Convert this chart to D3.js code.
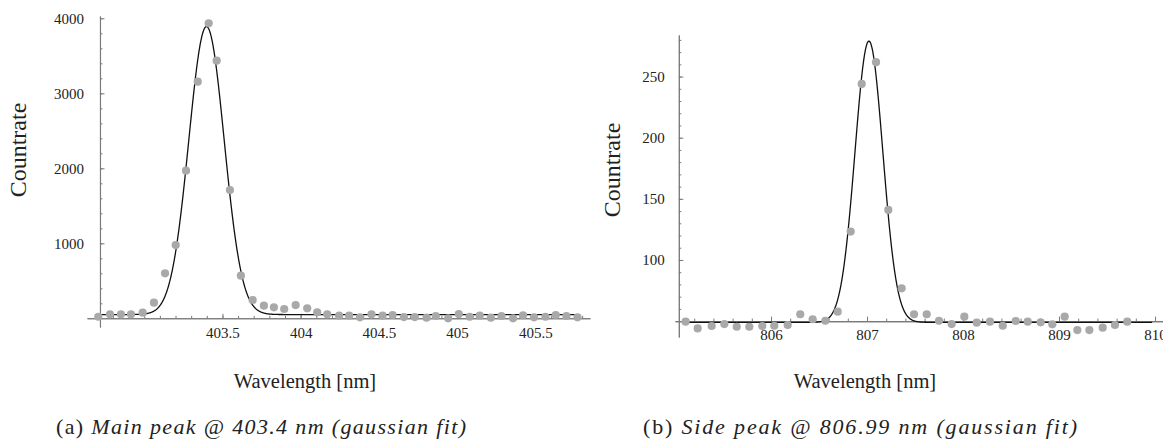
<!DOCTYPE html>
<html>
<head>
<meta charset="utf-8">
<script src="https://cdn.jsdelivr.net/npm/d3@7"></script>
<style>
  html, body { margin: 0; padding: 0; background: #fff; }
  svg { display: block; }
</style>
</head>
<body>
<svg id="chart" width="1163" height="441"></svg>
<script>
// ---------- data: panel (a) main peak ----------
const mainWavelength = [402.706, 402.781, 402.851, 402.915, 402.990, 403.062, 403.133, 403.201, 403.267, 403.342,
  403.412, 403.463, 403.548, 403.618, 403.693, 403.765, 403.829, 403.895, 403.968, 404.042,
  404.106, 404.170, 404.246, 404.310, 404.379, 404.453, 404.524, 404.588, 404.660, 404.730,
  404.805, 404.864, 404.943, 405.011, 405.081, 405.145, 405.216, 405.284, 405.358, 405.422,
  405.492, 405.565, 405.631, 405.699, 405.770];
const mainCounts = [21, 53, 53, 53, 75, 208, 600, 977, 1968, 3155,
  3933, 3435, 1711, 568, 244, 168, 147, 124, 177, 133,
  80, 53, 35, 35, 13, 53, 35, 44, 17, 17,
  9, 31, 0, 57, 21, 35, 9, 31, 0, 40,
  13, 21, 44, 31, 13];
// gaussian fit parameters (a)
const mainFitCenter = 403.398, mainFitSigma = 0.113, mainFitAmp = 3840, mainFitBase = 50;
const mainXTicks = [403.5, 404, 404.5, 405, 405.5];
const mainXTickLabels = ["403.5", "404", "404.5", "405", "405.5"];
const mainXMinor = d3.range(28, 59).map(i => i / 10 + 400);   // 402.8 ... 405.8
const mainYTicks = [1000, 2000, 3000, 4000];
const mainYTickLabels = ["1000", "2000", "3000", "4000"];
const mainYMinor = d3.range(1, 21).map(i => i * 200);

// ---------- data: panel (b) side peak ----------
const sideWavelength = [805.111, 805.236, 805.382, 805.514, 805.643, 805.774, 805.909, 806.034, 806.174, 806.305,
  806.434, 806.566, 806.695, 806.830, 806.945, 807.094, 807.222, 807.361, 807.490, 807.622,
  807.750, 807.882, 808.014, 808.143, 808.281, 808.414, 808.549, 808.674, 808.809, 808.930,
  809.059, 809.191, 809.316, 809.455, 809.583, 809.711];
const sideCounts = [49.5, 44, 46, 47.6, 45.4, 45.4, 46, 46.2, 46.8, 55.6,
  51.5, 50.3, 57.7, 123.2, 244, 261.8, 140.9, 76.8, 55.6, 55.6,
  50.3, 47.6, 53.6, 48.7, 49.5, 46.2, 50.1, 49.5, 49, 47.4,
  53.6, 42.7, 42.7, 44.6, 46.8, 49.5];
const sideFitCenter = 807.02, sideFitSigma = 0.145, sideFitAmp = 230, sideFitBase = 49;
const sideXTicks = [806, 807, 808, 809, 810];
const sideXTickLabels = ["806", "807", "808", "809", "810"];
const sideXMinor = d3.range(1, 26).map(i => 805 + i * 0.2);
const sideYTicks = [100, 150, 200, 250];
const sideYTickLabels = ["100", "150", "200", "250"];
const sideYMinor = d3.range(6, 29).map(i => i * 10);

const xLabel = "Wavelength [nm]";
const yLabel = "Countrate";
const captionA = { tag: "(a)", text: "Main peak @ 403.4 nm (gaussian fit)" };
const captionB = { tag: "(b)", text: "Side peak @ 806.99 nm (gaussian fit)" };

// ---------- drawing ----------
const svg = d3.select("#chart");
svg.append("rect").attr("width", 1163).attr("height", 441).attr("fill", "#fff");

const AXIS_COLOR = "#7a7a7a";
const TEXT_COLOR = "#222";
const DOT_COLOR = "#a9a9a9";
const FONT = "'Liberation Serif', 'DejaVu Serif', 'Noto Serif', 'Times New Roman', Times, serif";

function gauss(c, s, a, b) { return x => b + a * Math.exp(-((x - c) * (x - c)) / (2 * s * s)); }

function panel(cfg) {
  const g = svg.append("g");
  const x = d3.scaleLinear().domain(cfg.xDomain).range(cfg.xRange);
  const y = d3.scaleLinear().domain(cfg.yDomain).range(cfg.yRange);
  const axisY = y(cfg.xAxisAt);
  const axisX = x(cfg.yAxisAt);

  const xMinorG = g.append("g").attr("transform", `translate(0,${axisY})`)
    .call(d3.axisBottom(x).tickValues(cfg.xMinor).tickSizeInner(-2.5).tickSizeOuter(0).tickFormat(""));
  const xMajG = g.append("g").attr("transform", `translate(0,${axisY})`)
    .call(d3.axisBottom(x).tickValues(cfg.xTicks).tickSizeInner(-4.5).tickSizeOuter(0)
      .tickPadding(cfg.xPad).tickFormat((d, i) => cfg.xTickLabels[i]));
  const yMinorG = g.append("g").attr("transform", `translate(${axisX},0)`)
    .call(d3.axisLeft(y).tickValues(cfg.yMinor).tickSizeInner(-2.5).tickSizeOuter(0).tickFormat(""));
  const yMajG = g.append("g").attr("transform", `translate(${axisX},0)`)
    .call(d3.axisLeft(y).tickValues(cfg.yTicks).tickSizeInner(-4.5).tickSizeOuter(0)
      .tickPadding(cfg.yPad).tickFormat((d, i) => cfg.yTickLabels[i]));

  [xMinorG, xMajG, yMinorG, yMajG].forEach(a => {
    a.attr("font-family", null).attr("font-size", null);
    a.selectAll("path.domain").attr("stroke", AXIS_COLOR).attr("stroke-width", 1.1);
    a.selectAll(".tick line").attr("stroke", AXIS_COLOR).attr("stroke-width", 1);
    a.selectAll(".tick text").attr("fill", TEXT_COLOR)
      .style("font-family", FONT).style("font-size", "15px");
  });

  const f = gauss(cfg.fit.c, cfg.fit.s, cfg.fit.a, cfg.fit.b);
  const xs = d3.range(cfg.curveRange[0], cfg.curveRange[1], 0.002);
  g.append("path")
    .datum(xs)
    .attr("fill", "none").attr("stroke", "#111").attr("stroke-width", 1.3)
    .attr("d", d3.line().x(d => x(d)).y(d => y(f(d))));

  g.selectAll("circle.pt").data(cfg.xs.map((w, i) => [w, cfg.ys[i]]))
    .join("circle").attr("class", "pt")
    .attr("cx", d => x(d[0])).attr("cy", d => y(d[1])).attr("r", 4.1)
    .attr("fill", DOT_COLOR);

  g.append("text").text(xLabel)
    .attr("x", cfg.xTitlePos[0]).attr("y", cfg.xTitlePos[1])
    .attr("text-anchor", "middle").attr("fill", TEXT_COLOR)
    .style("font-family", FONT).style("font-size", "20.5px");
  g.append("text").text(yLabel)
    .attr("transform", `translate(${cfg.yTitlePos[0]},${cfg.yTitlePos[1]}) rotate(-90)`)
    .attr("text-anchor", "middle").attr("fill", TEXT_COLOR)
    .style("font-family", FONT).style("font-size", "24px");

  const cap = g.append("text").attr("x", cfg.capPos[0]).attr("y", cfg.capPos[1])
    .attr("text-anchor", "middle").attr("fill", TEXT_COLOR)
    .attr("textLength", cfg.capWidth).attr("lengthAdjust", "spacing")
    .style("font-family", FONT).style("font-size", "22px");
  cap.append("tspan").text(cfg.caption.tag + " ");
  cap.append("tspan").style("font-style", "italic").text(cfg.caption.text);
}

panel({
  xDomain: [402.634, 405.85], xRange: [87, 590],
  yDomain: [-116, 4031], yRange: [327, 16],
  xAxisAt: 0, yAxisAt: 402.717,
  xTicks: mainXTicks, xTickLabels: mainXTickLabels, xMinor: mainXMinor,
  yTicks: mainYTicks, yTickLabels: mainYTickLabels, yMinor: mainYMinor,
  xPad: 9, yPad: 16,
  fit: { c: mainFitCenter, s: mainFitSigma, a: mainFitAmp, b: mainFitBase },
  curveRange: [402.717, 405.77],
  xs: mainWavelength, ys: mainCounts,
  xTitlePos: [305, 388], yTitlePos: [26, 150],
  capPos: [261, 434], capWidth: 410, caption: captionA
});

panel({
  xDomain: [805.0, 810.1], xRange: [675, 1164.6],
  yDomain: [37, 284], yRange: [337, 35],
  xAxisAt: 50, yAxisAt: 805.04,
  xTicks: sideXTicks, xTickLabels: sideXTickLabels, xMinor: sideXMinor,
  yTicks: sideYTicks, yTickLabels: sideYTickLabels, yMinor: sideYMinor,
  xPad: 8, yPad: 14,
  fit: { c: sideFitCenter, s: sideFitSigma, a: sideFitAmp, b: sideFitBase },
  curveRange: [805.12, 809.97],
  xs: sideWavelength, ys: sideCounts,
  xTitlePos: [865, 388], yTitlePos: [620, 170],
  capPos: [860, 434], capWidth: 434, caption: captionB
});
</script>
</body>
</html>
